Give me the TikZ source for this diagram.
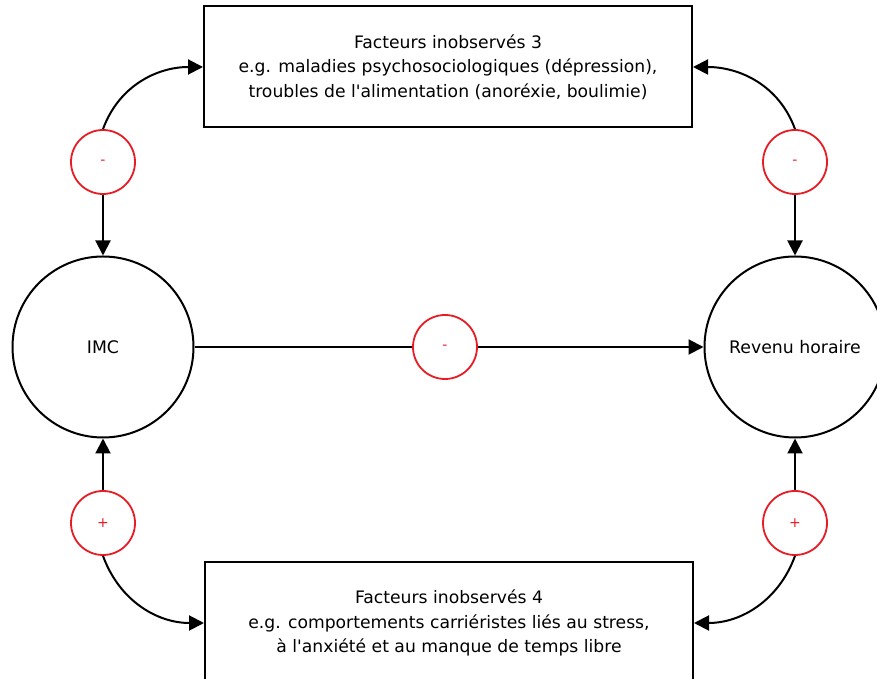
\documentclass[tikz,border=0pt]{standalone}
\usepackage{fontspec}
\setmainfont{DejaVu Sans}
\usetikzlibrary{arrows.meta}
\definecolor{sred}{RGB}{232,28,36}
\begin{document}
\begin{tikzpicture}[x=1pt,y=1pt,
  bigcirc/.style={circle,draw=black,line width=2pt,minimum size=181pt,inner sep=0pt,font=\fontsize{17.3}{20}\selectfont},
  signcirc/.style={circle,draw=sred,line width=1.8pt,minimum size=64pt,inner sep=0pt,text=sred,font=\fontsize{14}{16}\selectfont},
  factbox/.style={rectangle,draw=black,line width=2pt,minimum width=488pt,minimum height=121pt,align=center,font=\fontsize{17.2}{24.5}\selectfont},
  conn/.style={line width=2pt,-{Triangle[length=15pt,width=15pt]}},
  plainline/.style={line width=2pt},
]
\clip (0,0) rectangle (877,679);
\fill[white] (0,0) rectangle (877,679);
\node[factbox] (f3) at (448,612) {Facteurs inobservés 3\\e.g. maladies psychosociologiques (dépression),\\troubles de l\textquotesingle alimentation (anoréxie, boulimie)};
\node[factbox] (f4) at (449,56) {Facteurs inobservés 4\\e.g. comportements carriéristes liés au stress,\\à l\textquotesingle anxiété et au manque de temps libre};
\node[bigcirc] (imc) at (103,332) {IMC};
\node[bigcirc] (rev) at (795,332) {Revenu horaire};
\node[signcirc] (s1) at (103,517) {-};
\node[signcirc] (s2) at (795,517) {-};
\node[signcirc] (s3) at (445,332) {-};
\node[signcirc] (s4) at (103,156) {+};
\node[signcirc] (s5) at (795,156) {+};
\draw[conn] (s1.north) to[out=70,in=180] (f3.west);
\draw[conn] (s1.south) -- (imc.north);
\draw[conn] (s2.north) to[out=110,in=0] (f3.east);
\draw[conn] (s2.south) -- (rev.north);
\draw[plainline] (imc.east) -- (s3.west);
\draw[conn] (s3.east) -- (rev.west);
\draw[conn] (s4.north) -- (imc.south);
\draw[conn] (s4.south) to[out=-70,in=180] (f4.west);
\draw[conn] (s5.north) -- (rev.south);
\draw[conn] (s5.south) to[out=-110,in=0] (f4.east);
\end{tikzpicture}
\end{document}
